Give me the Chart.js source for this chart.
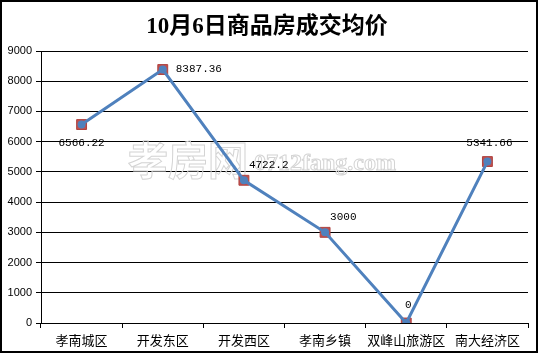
<!DOCTYPE html>
<html>
<head>
<meta charset="utf-8">
<script src="https://cdn.jsdelivr.net/npm/chart.js@4.4.1/dist/chart.umd.min.js"></script>
<style>
  html, body { margin: 0; padding: 0; background: #fff; }
  #wrap { width: 538px; height: 353px; box-sizing: border-box; border: 2px solid #000; background: #fff; }
  #chart { display: block; }
</style>
</head>
<body>
<div id="wrap"><canvas id="chart" width="534" height="349"></canvas></div>
<script>
// 数据
const titleText = "10月6日商品房成交均价";
const watermarkText = "孝房网";
const watermarkUrl = "0712fang.com";
const districts = ["孝南城区", "开发东区", "开发西区", "孝南乡镇", "双峰山旅游区", "南大经济区"];
const avgPrice = [6566.22, 8387.36, 4722.2, 3000, 0, 5341.66];
const priceLabels = ["6566.22", "8387.36", "4722.2", "3000", "0", "5341.66"];
const labelPos = ["below", "right", "upright", "upright", "above", "above"];
const yMin = 0, yMax = 9000, yStep = 1000;

const lineBlue = "#4F81BD";
const markRed = "#C0504D";

// 标题与水印
const titlePlugin = {
    id: "titleAndMark",
    beforeDatasetsDraw(chart) {
        const ctx = chart.ctx;
        ctx.save();
        ctx.strokeStyle = "#d4d4d4";
        ctx.lineWidth = 1;
        ctx.textBaseline = "middle";
        ctx.textAlign = "left";
        ctx.font = "bold 40px 'Noto Sans CJK SC'";
        ctx.strokeText(watermarkText, 126, 158);
        ctx.font = "bold 24px 'Liberation Serif'";
        ctx.strokeText(watermarkUrl, 252, 162);
        ctx.restore();
    },
    afterDraw(chart) {
        const ctx = chart.ctx;
        ctx.save();
        ctx.fillStyle = "#000";
        ctx.font = "bold 23px 'Liberation Serif', 'Noto Sans CJK SC'";
        ctx.textAlign = "center";
        ctx.textBaseline = "middle";
        ctx.fillText(titleText, 265, 25);
        ctx.restore();
    }
};

// 数据标签
const labelPlugin = {
    id: "priceLabels",
    afterDatasetsDraw(chart) {
        const ctx = chart.ctx;
        const meta = chart.getDatasetMeta(0);
        ctx.save();
        ctx.fillStyle = "#000";
        ctx.font = "11px 'Liberation Mono'";
        ctx.textBaseline = "middle";
        meta.data.forEach(function (pt, i) {
            const pos = labelPos[i];
            let x = pt.x, y = pt.y;
            if (pos === "below") { ctx.textAlign = "center"; y += 19; }
            else if (pos === "right") { ctx.textAlign = "left"; x += 13; }
            else if (pos === "upright") { ctx.textAlign = "left"; x += 5; y -= 15; }
            else { ctx.textAlign = "center"; x += 2; y -= 18; }
            ctx.fillText(priceLabels[i], x, y);
        });
        ctx.restore();
    }
};

new Chart(document.getElementById("chart"), {
    type: "line",
    data: {
        labels: districts,
        datasets: [
            {
                label: "成交均价",
                data: avgPrice,
                borderColor: lineBlue,
                backgroundColor: lineBlue,
                borderWidth: 3,
                tension: 0,
                fill: false,
                pointStyle: "circle",
                pointRadius: 4,
                pointBorderWidth: 0,
                pointBackgroundColor: lineBlue,
                order: 1
            },
            {
                label: "标记",
                data: avgPrice,
                showLine: false,
                pointStyle: "rect",
                pointRadius: 7,
                pointBorderWidth: 1,
                pointBorderColor: "#b04340",
                pointBackgroundColor: markRed,
                order: 2
            }
        ]
    },
    options: {
        responsive: false,
        animation: false,
        layout: { padding: { top: 49, left: 0, right: 2, bottom: 0 } },
        plugins: {
            legend: { display: false },
            tooltip: { enabled: false },
            title: { display: false }
        },
        scales: {
            x: {
                offset: true,
                grid: { offset: true, drawOnChartArea: false, color: "#000", tickLength: 5 },
                border: { color: "#000" },
                ticks: {
                    color: "#000",
                    padding: 4,
                    maxRotation: 0,
                    autoSkip: false,
                    font: { family: "'Noto Sans CJK SC'", size: 13 }
                },
                afterFit: function (scale) { scale.height = 28; }
            },
            y: {
                min: yMin,
                max: yMax,
                grid: { color: "#000", tickLength: 5 },
                border: { color: "#000" },
                ticks: {
                    stepSize: yStep,
                    color: "#000",
                    padding: 4,
                    font: { family: "'Liberation Sans'", size: 11 },
                    callback: function (value) { return String(value); }
                },
                afterFit: function (scale) { scale.width = 39; }
            }
        }
    },
    plugins: [titlePlugin, labelPlugin]
});
</script>
</body>
</html>
